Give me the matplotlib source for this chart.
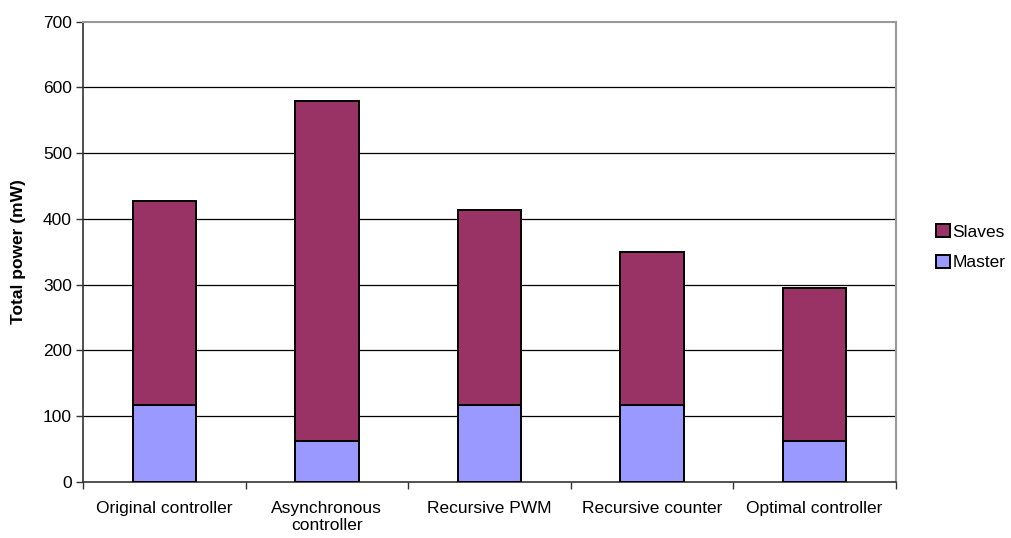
import numpy as np
import matplotlib.pyplot as plt

plt.rcParams['font.family'] = ['Liberation Sans', 'DejaVu Sans']

categories = ['Original controller', 'Asynchronous\ncontroller', 'Recursive PWM',
              'Recursive counter', 'Optimal controller']
master = [117, 63, 117, 117, 63]
slaves = [310, 517, 296, 232, 232]

fig = plt.figure(figsize=(10.11, 5.38), dpi=100)
ax = fig.add_axes([0.0821, 0.1041, 0.8041, 0.8556])

x = np.arange(len(categories))
w = 0.39
b1 = ax.bar(x, master, w, color='#9999ff', edgecolor='black', linewidth=1.4,
            label='Master', zorder=3)
b2 = ax.bar(x, slaves, w, bottom=master, color='#993366', edgecolor='black',
            linewidth=1.4, label='Slaves', zorder=3)

ax.set_xlim(-0.5, len(categories) - 0.5)
ax.set_ylim(0, 700)
ax.set_yticks(np.arange(0, 701, 100))
for v in range(100, 700, 100):
    ax.axhline(v, color='black', linewidth=0.9, zorder=1)

# category labels centred on bars, tick marks between categories
ax.set_xticks(x)
ax.set_xticklabels(categories, fontsize=12.5, linespacing=1.1)
ax.tick_params(axis='x', length=0, pad=14)
ax.set_xticks(np.arange(-0.5, len(categories)), minor=True)
ax.tick_params(axis='x', which='minor', length=5, width=1, color='#333333')
ax.tick_params(axis='y', labelsize=12.5, length=5, width=1, color='#333333', pad=3)

for side in ['top', 'right']:
    ax.spines[side].set_color('#999999')
    ax.spines[side].set_linewidth(1.5)
ax.spines['left'].set_color('#333333')
ax.spines['bottom'].set_color('#333333')
ax.spines['left'].set_linewidth(1.2)
ax.spines['bottom'].set_linewidth(1.2)

ax.set_ylabel('Total power (mW)', fontsize=12.5, fontweight='bold', labelpad=12)

ax.legend(handles=[b2, b1], labels=['Slaves', 'Master'], loc='center left',
          bbox_to_anchor=(1.049, 0.51), frameon=False, fontsize=12.5,
          borderpad=0, borderaxespad=0,
          handlelength=0.8, handleheight=0.8, handletextpad=0.15, labelspacing=0.85)

fig.savefig('out.png', dpi=100)
